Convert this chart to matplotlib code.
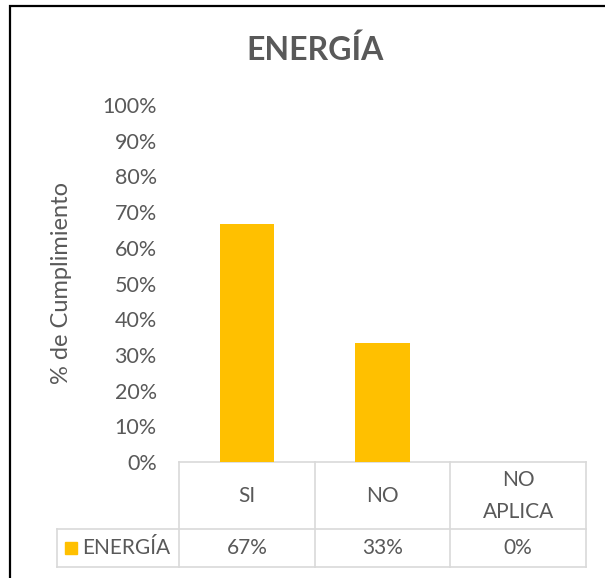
import matplotlib
matplotlib.use("Agg")
import matplotlib.pyplot as plt
from matplotlib.patches import Rectangle
import matplotlib.transforms as mtransforms

categories = ["SI", "NO", "NO\nAPLICA"]
values = [0.6667, 0.3333, 0.0]
value_labels = ["67%", "33%", "0%"]
series_name = "ENERGÍA"
title = "ENERGÍA"
ylabel = "% de Cumplimiento"

W, H = 605, 578
bar_color = "#FFC000"
txt = "#595959"
grid = "#D9D9D9"
plt.rcParams["font.family"] = ["Lato", "DejaVu Sans"]

fig = plt.figure(figsize=(W / 100, H / 100), dpi=100)
fig.patch.set_facecolor("white")

# outer chart border (cut off at right/bottom)
fig.patches.append(Rectangle((9.5 / W, -0.01), 1.0, 1 - 5.5 / H + 0.01,
                             transform=fig.transFigure, fill=False,
                             edgecolor="black", linewidth=1.6))

left, right, top, bottom = 179, 586, 105, 462
ax = fig.add_axes([left / W, (H - bottom) / H, (right - left) / W, (bottom - top) / H])
x = list(range(len(categories)))
ax.bar(x, values, width=0.4, color=bar_color, zorder=3)
ax.set_xlim(-0.5, len(categories) - 0.5)
ax.set_ylim(0, 1)
ax.set_yticks([i / 10 for i in range(11)])
ax.set_yticklabels([f"{i * 10}%" for i in range(11)], color=txt, fontsize=15.5)
ax.tick_params(axis="y", length=0, pad=16)
ax.set_xticks([])
for s in ["top", "right", "left"]:
    ax.spines[s].set_visible(False)
ax.spines["bottom"].set_color(grid)
ax.spines["bottom"].set_linewidth(1.2)

ax.set_ylabel(ylabel, color=txt, fontsize=17)
ax.yaxis.set_label_coords((72 - left) / (right - left), 0.5)

fig.text(315 / W, 1 - 50 / H, title, ha="center", va="center",
         fontsize=23, fontweight="bold", color=txt)

# data table
tr = mtransforms.blended_transform_factory(ax.transData, ax.transAxes)
ph = bottom - top
y_mid = -(529 - bottom) / ph
y_bot = -(567 - bottom) / ph
x_leg = (57 - left) / (right - left) * len(categories) - 0.5
lk = dict(color=grid, linewidth=1.2, transform=tr, clip_on=False)
ax.plot([x_leg, 2.5], [y_mid, y_mid], **lk)
ax.plot([x_leg, 2.5], [y_bot, y_bot], **lk)
ax.plot([x_leg, x_leg], [y_mid, y_bot], **lk)
for b in [-0.5, 0.5, 1.5, 2.5]:
    ax.plot([b, b], [0, y_bot], **lk)

for xi, c, v in zip(x, categories, value_labels):
    ax.text(xi, y_mid / 2, c, ha="center", va="center", transform=tr,
            fontsize=15, color=txt, linespacing=1.75)
    ax.text(xi, (y_mid + y_bot) / 2, v, ha="center", va="center", transform=tr,
            fontsize=15, color=txt)

sq_x0 = (65 - left) / (right - left) * len(categories) - 0.5
ax.add_patch(Rectangle((sq_x0, -(554 - bottom) / ph), 12 / (right - left) * 3, 12 / ph,
                       transform=tr, clip_on=False, color=bar_color))
ax.text((82 - left) / (right - left) * 3 - 0.5, (y_mid + y_bot) / 2, series_name,
        ha="left", va="center", transform=tr, fontsize=15, color=txt)

fig.savefig("out.png", dpi=100)
